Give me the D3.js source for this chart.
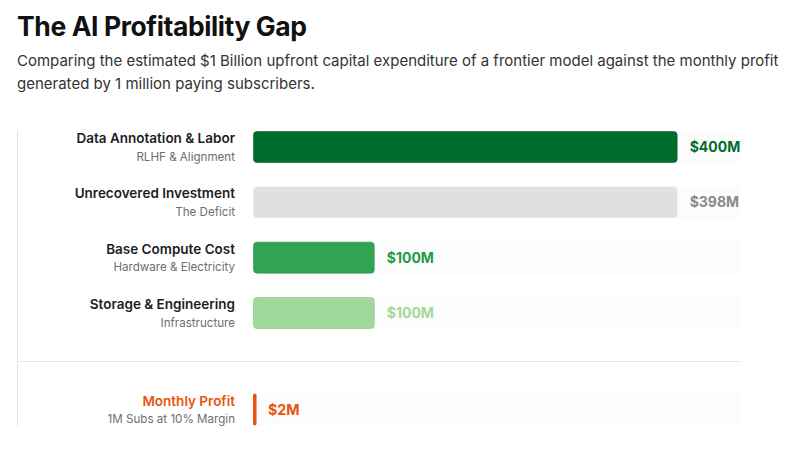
<!DOCTYPE html>
<html>
<head>
<meta charset="utf-8">
<script src="https://cdn.jsdelivr.net/npm/d3@7"></script>
<style>
  html, body { margin: 0; padding: 0; background: #fff; }
  body { font-family: Inter, "Noto Sans", sans-serif; }
</style>
</head>
<body>
<div id="chart"></div>
<script>
const categories = ["Data Annotation & Labor", "Unrecovered Investment", "Base Compute Cost", "Storage & Engineering"];
const subLabels = ["RLHF & Alignment", "The Deficit", "Hardware & Electricity", "Infrastructure"];
const values = [400, 398, 100, 100];
const valueLabels = ["$400M", "$398M", "$100M", "$100M"];
const barColors = ["#006d2c", "#e0e0e0", "#31a354", "#a1d99b"];
const labelColors = ["#006d2c", "#8a8a8a", "#1f9a45", "#a1d99b"];

const profitLabel = "Monthly Profit";
const profitSub = "1M Subs at 10% Margin";
const profitValue = 2;
const profitText = "$2M";
const profitColor = "#e6550d";

const width = 800, height = 463;
const trackX = 253, trackW = 487;
const barH = 32;

const svg = d3.select("#chart").append("svg")
    .attr("width", width)
    .attr("height", height);

// title + subtitle
svg.append("text")
    .attr("x", 17).attr("y", 36)
    .attr("font-size", 26.5).attr("font-weight", 700)
    .attr("letter-spacing", -0.4)
    .attr("fill", "#111")
    .text("The AI Profitability Gap");

const sub = svg.append("text")
    .attr("font-size", 15).attr("fill", "#333");
sub.append("tspan").attr("x", 17).attr("y", 66)
    .text("Comparing the estimated $1 Billion upfront capital expenditure of a frontier model against the monthly profit");
sub.append("tspan").attr("x", 17).attr("y", 88.5)
    .text("generated by 1 million paying subscribers.");

const x = d3.scaleLinear().domain([0, 400]).range([0, trackW]);
const barW = v => Math.max(3.5, Math.min(x(v), trackW * 0.872));

const y = d3.scalePoint().domain(categories).range([147, 313]);

// frame lines
svg.append("line")
    .attr("x1", 17.5).attr("x2", 17.5).attr("y1", 130).attr("y2", 426)
    .attr("stroke", "#e6e6e6").attr("stroke-width", 1);
svg.append("line")
    .attr("x1", 17).attr("x2", 740).attr("y1", 361.5).attr("y2", 361.5)
    .attr("stroke", "#e6e6e6").attr("stroke-width", 1.2);

const rows = svg.append("g").selectAll("g")
    .data(categories)
    .join("g")
    .attr("transform", d => `translate(0,${y(d)})`);

rows.append("rect")
    .attr("x", trackX).attr("y", -barH / 2)
    .attr("width", trackW).attr("height", barH)
    .attr("rx", 4).attr("fill", "#fcfcfc");

rows.append("rect")
    .attr("x", trackX + 0.5).attr("y", -barH / 2 + 0.5)
    .attr("width", (d, i) => barW(values[i]) - 1).attr("height", barH - 1)
    .attr("rx", 3.5)
    .attr("fill", (d, i) => barColors[i])
    .attr("stroke", (d, i) => d3.color(barColors[i]).darker(0.35))
    .attr("stroke-opacity", (d, i) => i === 1 ? 0 : 0.6);

rows.append("text")
    .attr("x", (d, i) => trackX + barW(values[i]) + 12)
    .attr("y", 5)
    .attr("font-size", 14).attr("font-weight", 700)
    .attr("fill", (d, i) => labelColors[i])
    .text((d, i) => valueLabels[i]);

rows.append("text")
    .attr("x", 235).attr("y", -4)
    .attr("text-anchor", "end")
    .attr("font-size", 13.5).attr("font-weight", 600)
    .attr("fill", "#1d1d1f")
    .text(d => d);

rows.append("text")
    .attr("x", 235).attr("y", 13.5)
    .attr("text-anchor", "end")
    .attr("font-size", 11.6)
    .attr("fill", "#6e6e6e")
    .text((d, i) => subLabels[i]);

// profit row
const py = 409.5;
const pg = svg.append("g").attr("transform", `translate(0,${py})`);
pg.append("rect")
    .attr("x", trackX).attr("y", -barH / 2)
    .attr("width", trackW).attr("height", barH)
    .attr("rx", 4).attr("fill", "#fcfcfc");
pg.append("rect")
    .attr("x", trackX).attr("y", -barH / 2)
    .attr("width", barW(profitValue)).attr("height", barH)
    .attr("rx", 1.75).attr("fill", profitColor);
pg.append("text")
    .attr("x", trackX + 15).attr("y", 5.5)
    .attr("font-size", 14.3).attr("font-weight", 700)
    .attr("fill", profitColor)
    .text(profitText);
pg.append("text")
    .attr("x", 235).attr("y", -4)
    .attr("text-anchor", "end")
    .attr("font-size", 13.5).attr("font-weight", 600)
    .attr("fill", profitColor)
    .text(profitLabel);
pg.append("text")
    .attr("x", 235).attr("y", 13.5)
    .attr("text-anchor", "end")
    .attr("font-size", 11.6)
    .attr("fill", "#6e6e6e")
    .text(profitSub);
</script>
</body>
</html>
